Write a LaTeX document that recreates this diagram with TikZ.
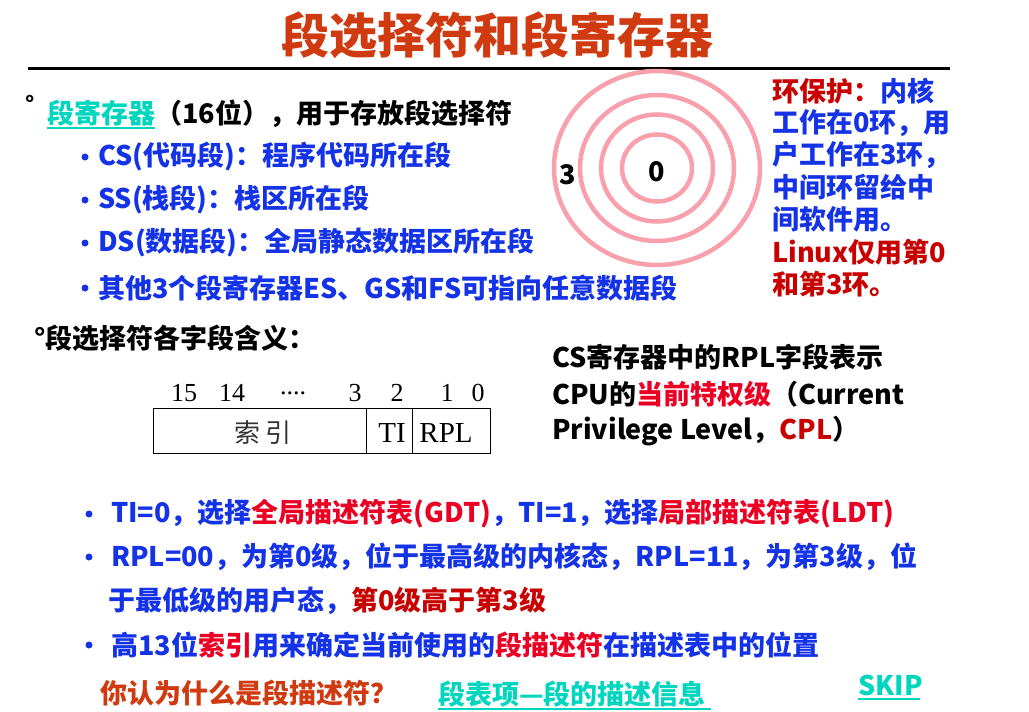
\documentclass[tikz,border=0pt]{standalone}
\usepackage{fontspec}
\usetikzlibrary{shapes.geometric}
\newfontfamily\cjk{Noto Sans CJK SC}
\newfontfamily\tms{Liberation Serif}
\setmainfont{Noto Sans CJK SC}
\definecolor{ttl}{RGB}{208,58,16}
\definecolor{blu}{RGB}{20,50,230}
\definecolor{rd}{RGB}{235,0,35}
\definecolor{drd}{RGB}{200,0,0}
\definecolor{cyn}{RGB}{0,214,190}
\definecolor{ring}{RGB}{248,160,172}
\tikzset{
  txt/.style={anchor=west,inner sep=0pt,font=\cjk\bfseries\fontsize{27}{30}\selectfont},
  ringc/.style={ellipse,draw=ring,line width=4.5pt,inner sep=0pt},
  bits/.style={inner sep=0pt,font=\tms\fontsize{26}{28}\selectfont},
  bul/.style={circle,fill=blu,inner sep=0pt,minimum size=7pt},
}
\begin{document}
\begin{tikzpicture}[x=1pt,y=-1pt]
\useasboundingbox (0,0) rectangle (1029,712);
% title
\node[inner sep=0pt,text=ttl,font=\cjk\bfseries\fontsize{48}{52}\selectfont] (title) at (497,35) {段选择符和段寄存器};
\draw[line width=3pt] (28,68) -- (950,68);
% rings
\node[ringc,minimum width=206pt,minimum height=194pt] (r3) at (657,168) {};
\node[ringc,minimum width=154pt,minimum height=146pt] (r2) at (657,168) {};
\node[ringc,minimum width=112pt,minimum height=107pt] (r1) at (657,168) {};
\node[ringc,minimum width=70pt,minimum height=67pt] (r0) at (657,168) {};
\node[txt,anchor=center] (l3) at (568,175) {3};
\node[txt,anchor=center] (l0) at (657,172) {0};
% ring text
\node[txt,text=blu] (rt1) at (772,91) {\textcolor{drd}{环保护：}内核};
\node[txt,text=blu] (rt2) at (772,123) {工作在0环，用};
\node[txt,text=blu] (rt3) at (772,155) {户工作在3环，};
\node[txt,text=blu] (rt4) at (772,187) {中间环留给中};
\node[txt,text=blu] (rt5) at (772,219) {间软件用。};
\node[txt,text=drd] (rt6) at (772,252) {Linux仅用第0};
\node[txt,text=drd] (rt7) at (772,284) {和第3环。};
% register list
\node[txt] (deg1) at (25,104) {\fontsize{22}{22}\selectfont °};
\node[txt] (reg) at (47,114) {\textcolor{cyn}{段寄存器}（16位），用于存放段选择符};
\draw[cyn,line width=2pt] (47,128) -- (155,128);
\node[bul] (p1) at (85,157) {};
\node[txt,text=blu] (b1) at (98,157) {CS(代码段)：程序代码所在段};
\node[bul] (p2) at (85,200) {};
\node[txt,text=blu] (b2) at (98,200) {SS(栈段)：栈区所在段};
\node[bul] (p3) at (85,243) {};
\node[txt,text=blu] (b3) at (98,243) {DS(数据段)：全局静态数据区所在段};
\node[bul] (p4) at (85,288) {};
\node[txt,text=blu] (b4) at (98,288) {其他3个段寄存器ES、GS和FS可指向任意数据段};
% selector
\node[txt] (sel) at (34,338) {°段选择符各字段含义：};
\node[bits] (n15) at (184,393) {15};
\node[bits] (n14) at (232,393) {14};
\node[bits] (ndot) at (293,393) {....};
\node[bits] (n3) at (355,393) {3};
\node[bits] (n2) at (397,393) {2};
\node[bits] (n1) at (447,393) {1};
\node[bits] (n0) at (478,393) {0};
\draw[line width=1pt] (153,408) rectangle (490,453);
\draw[line width=1pt] (366,408) -- (366,453);
\draw[line width=1pt] (412,408) -- (412,453);
\node[inner sep=0pt,font=\cjk\fontsize{26}{28}\selectfont,text=black!80] (idx) at (263,433) {索\hspace{6pt}引};
\node[bits,font=\tms\fontsize{29}{30}\selectfont] (ti) at (392,433) {TI};
\node[bits,font=\tms\fontsize{29}{30}\selectfont] (rpl) at (446,433) {RPL};
% CPL text
\node[txt] (c1) at (552,357) {CS寄存器中的RPL字段表示};
\node[txt] (c2) at (552,394) {CPU的\textcolor{rd}{当前特权级}（Current};
\node[txt] (c3) at (552,431) {Privilege Level，\textcolor{drd}{CPL}）};
% bottom bullets
\node[bul] (q1) at (89,514) {};
\node[txt,text=blu] (d1) at (111,514) {TI=0，选择\textcolor{rd}{全局描述符表(GDT)}，TI=1，选择\textcolor{rd}{局部描述符表(LDT)}};
\node[bul] (q2) at (89,557) {};
\node[txt,text=blu] (d2) at (111,557) {RPL=00，为第0级，位于最高级的内核态，RPL=11，为第3级，位};
\node[txt,text=blu] (d3) at (108,601) {于最低级的用户态，\textcolor{drd}{第0级高于第3级}};
\node[bul] (q3) at (89,645) {};
\node[txt,text=blu] (d4) at (111,645) {高13位\textcolor{rd}{索引}用来确定当前使用的\textcolor{rd}{段描述符}在描述表中的位置};
\node[txt,text=ttl] (q) at (100,693) {你认为什么是段描述符？};
\node[txt,text=cyn] (lnk) at (438,694) {段表项—段的描述信息};
\draw[cyn,line width=2pt] (438,709) -- (711,709);
\node[txt,text=cyn] (skip) at (858,685) {SKIP};
\draw[cyn,line width=2.5pt] (858,699) -- (920,699);
\end{tikzpicture}
\end{document}
